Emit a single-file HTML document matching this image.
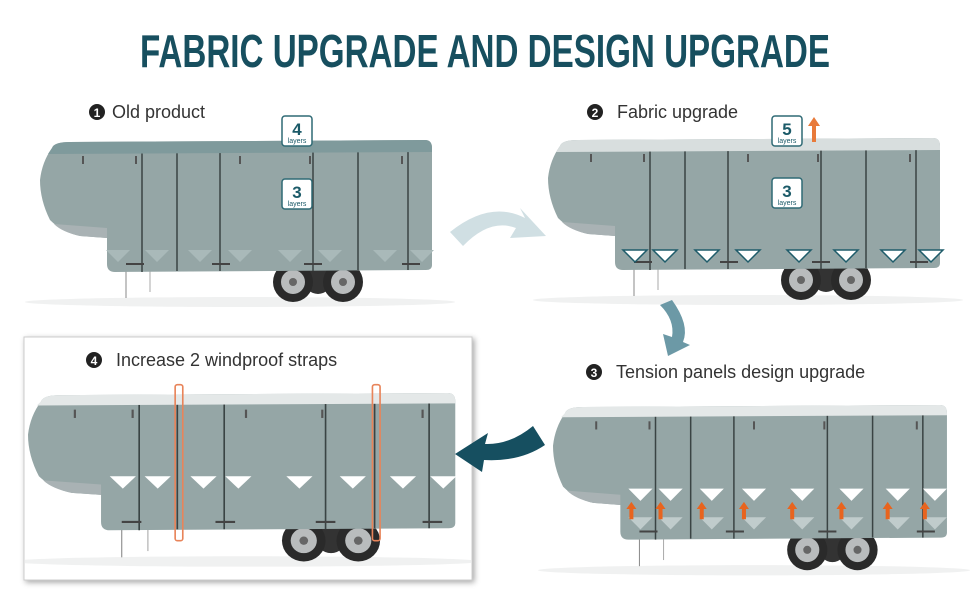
<!DOCTYPE html>
<html><head><meta charset="utf-8"><style>
html,body{margin:0;padding:0;background:#fff}
svg{display:block}
text{font-family:"Liberation Sans",sans-serif}
</style></head><body>
<svg width="970" height="600" viewBox="0 0 970 600" xmlns="http://www.w3.org/2000/svg">
<defs>
<clipPath id="box4"><rect x="25" y="338" width="446" height="241"/></clipPath>
<g id="wheels">
<circle cx="278" cy="140" r="14" fill="#333"/>
<circle cx="253" cy="142" r="20" fill="#2a2a2a"/><circle cx="253" cy="142" r="12" fill="#b9bcbd"/><circle cx="253" cy="142" r="4" fill="#666"/>
<circle cx="303" cy="142" r="20" fill="#2a2a2a"/><circle cx="303" cy="142" r="12" fill="#b9bcbd"/><circle cx="303" cy="142" r="4" fill="#666"/>
</g>
<g id="rv">
<ellipse cx="200" cy="162" rx="215" ry="5" fill="#f0f1f1"/>
<line x1="86" y1="130" x2="86" y2="158" stroke="#888" stroke-width="1"/>
<line x1="110" y1="130" x2="110" y2="152" stroke="#aaa" stroke-width="1"/>
<use href="#wheels"/>
<path d="M12,8 Q14,2 30,2 L385,0 Q392,0 392,8 L392,125 Q392,130 386,130 L75,132 Q67,132 67,124 L67,98 L40,96 Q22,92 10,80 Q0,60 0,40 Q2,22 12,8 Z" fill="#95a6a6"/>
<path d="M67,98 L40,96 Q22,92 14,84 L67,88 Z" fill="#a9b2b4"/>
<g stroke="#3a4444" stroke-width="1.5">
<line x1="102" y1="6" x2="102" y2="132"/><line x1="137" y1="2" x2="137" y2="131"/>
<line x1="180" y1="6" x2="180" y2="131"/><line x1="273" y1="6" x2="273" y2="131"/>
<line x1="318" y1="1" x2="318" y2="130"/><line x1="368" y1="6" x2="368" y2="130"/>
</g>
<g stroke="#555" stroke-width="2">
<line x1="43" y1="16" x2="43" y2="24"/><line x1="96" y1="16" x2="96" y2="24"/><line x1="200" y1="16" x2="200" y2="24"/><line x1="270" y1="16" x2="270" y2="24"/><line x1="362" y1="16" x2="362" y2="24"/>
</g>
<g stroke="#444" stroke-width="2"><line x1="86" y1="124" x2="104" y2="124"/><line x1="172" y1="124" x2="190" y2="124"/><line x1="264" y1="124" x2="282" y2="124"/><line x1="362" y1="124" x2="380" y2="124"/></g>
</g>
<polygon id="tri" points="-12,0 12,0 0,12"/>
</defs>

<text x="485" y="67" text-anchor="middle" font-size="46" font-weight="bold" fill="#174f5f" textLength="690" lengthAdjust="spacingAndGlyphs">FABRIC UPGRADE AND DESIGN UPGRADE</text>

<!-- Panel 1 -->
<circle cx="97" cy="112" r="8" fill="#222"/><text x="97" y="117" font-size="12" font-weight="bold" fill="#fff" text-anchor="middle">1</text>
<text x="112" y="118" font-size="18" fill="#333">Old product</text>
<g transform="translate(40,140)">
<use href="#rv"/>
<path d="M12,8 Q14,2 30,2 L385,0 Q392,0 392,8 L392,12 L8,14 Z" fill="#7f9a9c"/>
<g fill="#a9b9b9"><use href="#tri" x="78" y="110"/><use href="#tri" x="117" y="110"/><use href="#tri" x="160" y="110"/><use href="#tri" x="200" y="110"/><use href="#tri" x="250" y="110"/><use href="#tri" x="290" y="110"/><use href="#tri" x="345" y="110"/><use href="#tri" x="382" y="110"/></g>
</g>
<rect x="282" y="116" width="30" height="30" rx="3" fill="#fff" stroke="#2f6a75" stroke-width="1.5"/>
<text x="297" y="135" font-size="17" font-weight="bold" fill="#1b5a68" text-anchor="middle">4</text><text x="297" y="143" font-size="7" fill="#1b5a68" text-anchor="middle">layers</text>
<rect x="282" y="179" width="30" height="30" rx="3" fill="#fff" stroke="#2f6a75" stroke-width="1.5"/>
<text x="297" y="198" font-size="17" font-weight="bold" fill="#1b5a68" text-anchor="middle">3</text><text x="297" y="206" font-size="7" fill="#1b5a68" text-anchor="middle">layers</text>

<!-- Arrow 1 -->
<path d="M450,232 Q490,200 525,218 L520,208 L546,236 L510,238 L516,228 Q490,218 463,246 Z" fill="#d0dfe3"/>

<!-- Panel 2 -->
<circle cx="595" cy="112" r="8" fill="#222"/><text x="595" y="117" font-size="12" font-weight="bold" fill="#fff" text-anchor="middle">2</text>
<text x="617" y="118" font-size="18" fill="#333">Fabric upgrade</text>
<g transform="translate(548,138)">
<use href="#rv"/>
<path d="M12,8 Q14,2 30,2 L385,0 Q392,0 392,8 L392,12 L8,14 Z" fill="#d8dede"/>
<g fill="#fff" stroke="#1f5c6a" stroke-width="1.5"><use href="#tri" x="87" y="112"/><use href="#tri" x="117" y="112"/><use href="#tri" x="159" y="112"/><use href="#tri" x="200" y="112"/><use href="#tri" x="251" y="112"/><use href="#tri" x="298" y="112"/><use href="#tri" x="345" y="112"/><use href="#tri" x="383" y="112"/></g>
</g>
<rect x="772" y="116" width="30" height="30" rx="3" fill="#fff" stroke="#2f6a75" stroke-width="1.5"/>
<text x="787" y="135" font-size="17" font-weight="bold" fill="#1b5a68" text-anchor="middle">5</text><text x="787" y="143" font-size="7" fill="#1b5a68" text-anchor="middle">layers</text>
<path d="M812,142 L812,126 L808,126 L814,117 L820,126 L816,126 L816,142 Z" fill="#e87a3a"/>
<rect x="772" y="178" width="30" height="30" rx="3" fill="#fff" stroke="#2f6a75" stroke-width="1.5"/>
<text x="787" y="197" font-size="17" font-weight="bold" fill="#1b5a68" text-anchor="middle">3</text><text x="787" y="205" font-size="7" fill="#1b5a68" text-anchor="middle">layers</text>

<!-- Arrow 2 -->
<path d="M660,305 L672,300 Q690,325 683,342 L690,345 L668,356 L663,334 L672,337 Q675,320 660,305 Z" fill="#6c99a6"/>

<!-- Panel 3 -->
<circle cx="594" cy="372" r="8" fill="#222"/><text x="594" y="377" font-size="12" font-weight="bold" fill="#fff" text-anchor="middle">3</text>
<text x="616" y="378" font-size="18" fill="#333">Tension panels design upgrade</text>
<g transform="translate(553,405) scale(1.005,1.02)">
<use href="#rv"/>
<path d="M12,8 Q14,2 30,2 L385,0 Q392,0 392,8 L392,10 L8,12 Z" fill="#e4e8e8"/>
<g fill="#fff"><use href="#tri" x="87" y="82"/><use href="#tri" x="117" y="82"/><use href="#tri" x="158" y="82"/><use href="#tri" x="200" y="82"/><use href="#tri" x="248" y="82"/><use href="#tri" x="297" y="82"/><use href="#tri" x="343" y="82"/><use href="#tri" x="380" y="82"/></g>
<g fill="#c0cccc"><use href="#tri" x="87" y="110"/><use href="#tri" x="117" y="110"/><use href="#tri" x="158" y="110"/><use href="#tri" x="200" y="110"/><use href="#tri" x="248" y="110"/><use href="#tri" x="297" y="110"/><use href="#tri" x="343" y="110"/><use href="#tri" x="380" y="110"/></g>
<g fill="#e8641e"><path d="M76,112 v-10 h-3 l5,-7 l5,7 h-3 v10z"/><path d="M105,112 v-10 h-3 l5,-7 l5,7 h-3 v10z"/><path d="M146,112 v-10 h-3 l5,-7 l5,7 h-3 v10z"/><path d="M188,112 v-10 h-3 l5,-7 l5,7 h-3 v10z"/><path d="M236,112 v-10 h-3 l5,-7 l5,7 h-3 v10z"/><path d="M285,112 v-10 h-3 l5,-7 l5,7 h-3 v10z"/><path d="M331,112 v-10 h-3 l5,-7 l5,7 h-3 v10z"/><path d="M368,112 v-10 h-3 l5,-7 l5,7 h-3 v10z"/></g>
</g>

<!-- Panel 4 box -->
<rect x="24" y="337" width="448" height="243" fill="#fff" stroke="#ccc" stroke-width="1" style="filter:drop-shadow(2px 2px 3px rgba(0,0,0,0.35))"/>
<circle cx="94" cy="360" r="8" fill="#222"/><text x="94" y="365" font-size="12" font-weight="bold" fill="#fff" text-anchor="middle">4</text>
<text x="116" y="366" font-size="18" fill="#333">Increase 2 windproof straps</text>
<g clip-path="url(#box4)">
<g transform="translate(28,393) scale(1.09,1.04)">
<use href="#rv"/>
<path d="M12,8 Q14,2 30,2 L385,0 Q392,0 392,8 L392,10 L8,12 Z" fill="#e4e8e8"/>
<g fill="#fff"><use href="#tri" x="87" y="80"/><use href="#tri" x="119" y="80"/><use href="#tri" x="161" y="80"/><use href="#tri" x="193" y="80"/><use href="#tri" x="249" y="80"/><use href="#tri" x="298" y="80"/><use href="#tri" x="344" y="80"/><use href="#tri" x="381" y="80"/></g>
<rect x="135" y="-8" width="7" height="150" rx="2" fill="none" stroke="#e8845a" stroke-width="1.5"/>
<rect x="316" y="-8" width="7" height="150" rx="2" fill="none" stroke="#e8845a" stroke-width="1.5"/>
</g>
</g>

<!-- Arrow 3 -->
<path d="M545,445 L533,426 Q510,445 485,444 L488,433 L455,454 L482,472 L484,460 Q520,462 545,445 Z" fill="#164f60"/>
</svg>
</body></html>
